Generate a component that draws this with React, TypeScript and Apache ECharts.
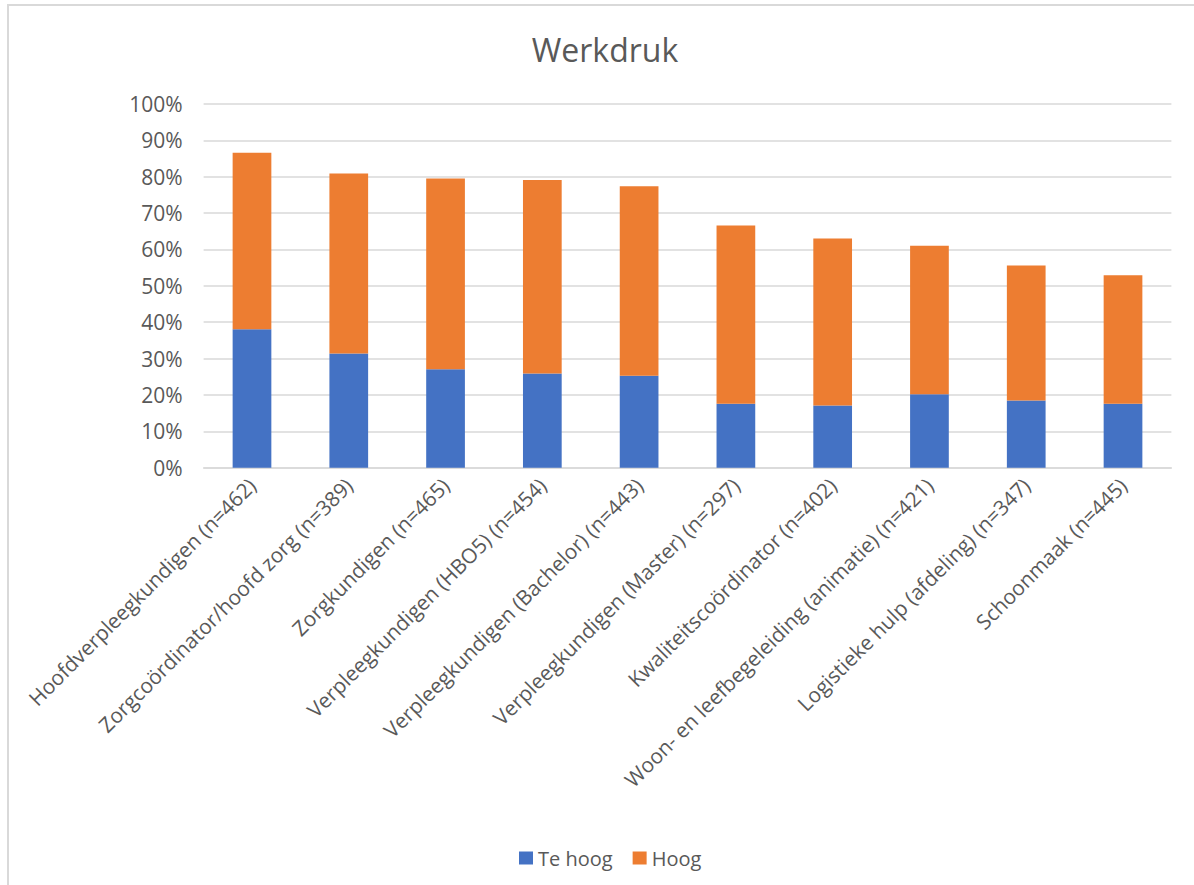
import React, { useEffect, useRef } from "react";
import * as echarts from "echarts";

const categories = [
  "Hoofdverpleegkundigen (n=462)",
  "Zorgcoördinator/hoofd zorg (n=389)",
  "Zorgkundigen (n=465)",
  "Verpleegkundigen (HBO5) (n=454)",
  "Verpleegkundigen (Bachelor) (n=443)",
  "Verpleegkundigen (Master) (n=297)",
  "Kwaliteitscoördinator (n=402)",
  "Woon- en leefbegeleiding (animatie) (n=421)",
  "Logistieke hulp (afdeling) (n=347)",
  "Schoonmaak (n=445)",
];
const teHoog = [38.1, 31.4, 27.1, 25.9, 25.3, 17.6, 17.1, 20.2, 18.5, 17.6];
const hoog = [48.5, 49.5, 52.4, 53.2, 52.1, 49.0, 45.9, 40.8, 37.1, 35.3];
const seriesNames = ["Te hoog", "Hoog"];
const title = "Werkdruk";

const FONT = "'Open Sans', sans-serif";
const TXT = "#595959";
const GRID = "#d9d9d9";

export default function App() {
  const ref = useRef<HTMLDivElement>(null);
  useEffect(() => {
    if (!ref.current) return;
    const chart = echarts.init(ref.current, null, { renderer: "svg" });
    chart.setOption({
      animation: false,
      backgroundColor: "#ffffff",
      textStyle: { fontFamily: FONT },
      graphic: [
        {
          type: "rect",
          shape: { x: 8, y: 5, width: 1300, height: 1000 },
          style: { fill: "none", stroke: GRID, lineWidth: 2 },
          silent: true,
        },
        {
          type: "text",
          x: 605,
          y: 49,
          style: {
            text: title,
            fill: TXT,
            font: `32px ${FONT}`,
            textAlign: "center",
            textVerticalAlign: "middle",
          },
        },
      ],
      legend: {
        left: 514,
        top: 843,
        itemWidth: 14,
        itemHeight: 13,
        itemGap: 20,
        icon: "rect",
        textStyle: { color: TXT, fontSize: 20, fontFamily: FONT },
        data: seriesNames,
      },
      grid: { left: 203.6, right: 22.6, top: 104, bottom: 417.3, containLabel: false },
      xAxis: {
        type: "category",
        data: categories,
        axisLine: { lineStyle: { color: GRID, width: 1.5 } },
        axisTick: { show: false },
        axisLabel: {
          interval: 0,
          rotate: 45,
          margin: 14,
          color: TXT,
          fontSize: 20.8,
          fontFamily: FONT,
        },
      },
      yAxis: {
        type: "value",
        min: 0,
        max: 100,
        interval: 10,
        axisLine: { show: false },
        axisTick: { show: false },
        splitLine: { lineStyle: { color: GRID, width: 1.5 } },
        axisLabel: {
          formatter: "{value}%",
          color: TXT,
          fontSize: 21,
          fontFamily: FONT,
          margin: 21,
        },
      },
      series: [
        {
          name: seriesNames[0],
          type: "bar",
          stack: "total",
          data: teHoog,
          barCategoryGap: "60%",
          itemStyle: { color: "#4472C4" },
        },
        {
          name: seriesNames[1],
          type: "bar",
          stack: "total",
          data: hoog,
          barCategoryGap: "60%",
          itemStyle: { color: "#ED7D31" },
        },
      ],
    });
    return () => chart.dispose();
  }, []);
  return (
    <div
      ref={ref}
      style={{ position: "absolute", left: 0, top: 0, width: 1194, height: 885 }}
    />
  );
}
